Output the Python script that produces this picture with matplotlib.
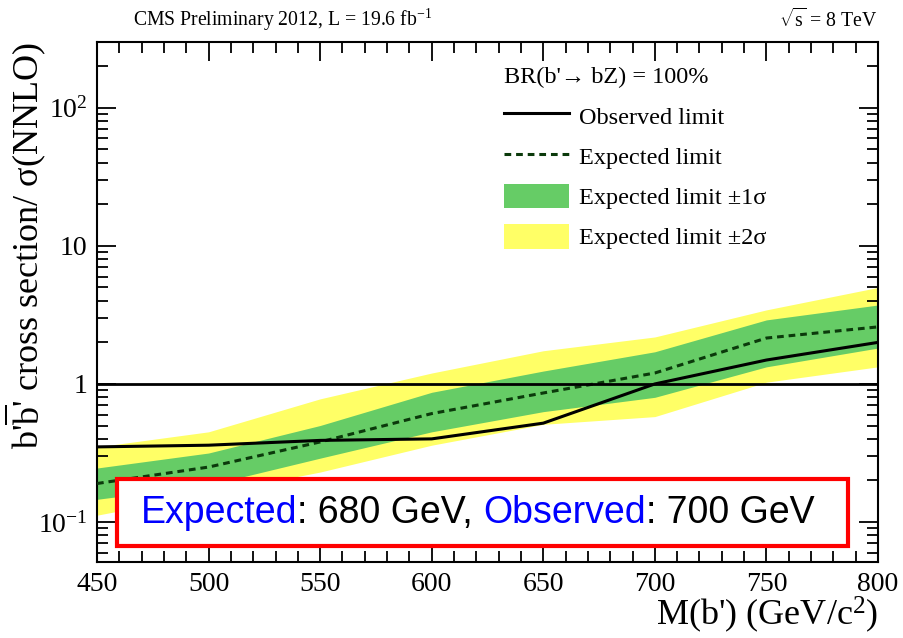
import numpy as np
import matplotlib
matplotlib.use("Agg")
import matplotlib.pyplot as plt
from matplotlib.lines import Line2D
from matplotlib.patches import Patch, Rectangle
from matplotlib.ticker import FixedLocator, FixedFormatter, MultipleLocator, LogLocator, NullFormatter
from matplotlib.offsetbox import TextArea, HPacker, AnchoredOffsetbox

plt.rcParams['font.family'] = ['Liberation Serif', 'DejaVu Serif']
plt.rcParams['mathtext.fontset'] = 'custom'
plt.rcParams['mathtext.rm'] = 'Liberation Serif'
plt.rcParams['mathtext.it'] = 'Liberation Serif:italic'

# b' mass points (GeV)
mass = [450, 500, 550, 600, 650, 700, 750, 800]

# limits on cross section / sigma(NNLO)
observed = [0.35, 0.36, 0.39, 0.40, 0.52, 1.00, 1.49, 2.00]
expected = [0.19, 0.25, 0.38, 0.61, 0.86, 1.20, 2.15, 2.59]
exp_1s_lo = [0.146, 0.185, 0.29, 0.45, 0.63, 0.80, 1.33, 1.82]
exp_1s_hi = [0.246, 0.316, 0.50, 0.87, 1.24, 1.71, 2.91, 3.73]
exp_2s_lo = [0.112, 0.16, 0.23, 0.36, 0.51, 0.58, 1.03, 1.33]
exp_2s_hi = [0.35, 0.45, 0.78, 1.20, 1.74, 2.19, 3.44, 5.00]

fig = plt.figure(figsize=(9.04, 6.38), dpi=100)
ax = fig.add_axes([0.1073, 0.1191, 0.8639, 0.8151])

ax.fill_between(mass, exp_2s_lo, exp_2s_hi, color='#ffff66', lw=0, zorder=1)
ax.fill_between(mass, exp_1s_lo, exp_1s_hi, color='#66cc66', lw=0, zorder=2)
ax.plot(mass, expected, color='#0b3a0b', ls=(0, (2.2, 1.6)), lw=2.2, zorder=3)
ax.plot(mass, observed, color='black', lw=2.2, zorder=4)
ax.axhline(1.0, color='black', lw=2, zorder=4)

ax.set_xlim(450, 800)
ax.set_yscale('log')
ax.set_ylim(0.0513, 300)

# ROOT style ticks
ax.xaxis.set_major_locator(MultipleLocator(50))
ax.xaxis.set_minor_locator(MultipleLocator(10))
ax.yaxis.set_major_locator(FixedLocator([0.1, 1, 10, 100]))
ax.yaxis.set_major_formatter(FixedFormatter(['10$^{-1}$', '1', '10', '10$^{2}$']))
ax.yaxis.set_minor_locator(LogLocator(base=10, subs=np.arange(2, 10)))
ax.yaxis.set_minor_formatter(NullFormatter())
ax.tick_params(which='both', direction='in', top=True, right=True, width=1.3)
ax.tick_params(which='major', length=14, labelsize=20, pad=7)
ax.tick_params(which='minor', length=8)
for s in ax.spines.values():
    s.set_linewidth(1.5)

ax.set_xlabel("M(b') (GeV/c$^{2}$)", fontsize=26, loc='right', labelpad=-1.5)
ax.set_ylabel("b'$\\overline{\\mathrm{b}}$' cross section/ \u03c3(NNLO)",
              fontsize=26, loc='top')
ax.yaxis.set_label_coords(-0.062, 1.0)

fig.text(133 / 904, 1 - 20 / 638, "CMS Preliminary 2012, L = 19.6 fb$^{-1}$",
         fontsize=14.2, va='center', ha='left')
fig.text(878 / 904, 1 - 20 / 638, "$\\sqrt{\\mathrm{s}}$ = 8 TeV",
         fontsize=14.2, va='center', ha='right')

handles = [Line2D([], [], color='black', lw=2.2),
           Line2D([], [], color='#0b3a0b', ls=(0, (2.2, 1.6)), lw=2.2),
           Patch(facecolor='#66cc66', lw=0),
           Patch(facecolor='#ffff66', lw=0)]
labels = ['Observed limit', 'Expected limit', 'Expected limit \u00b11\u03c3',
          'Expected limit \u00b12\u03c3']
leg = ax.legend(handles, labels, title="BR(b'\u2192 bZ) = 100%",
                loc='upper left', bbox_to_anchor=(0.499, 0.984), frameon=False,
                fontsize=17.5, title_fontsize=17.5, handlelength=2.67,
                handleheight=1.2, labelspacing=0.6, handletextpad=0.41,
                borderpad=0.2, alignment='left')

# result box
ax.add_patch(Rectangle((0.0256, 0.0308), 0.936, 0.1288, transform=ax.transAxes,
                       facecolor='white', edgecolor='#ff0000', lw=3, zorder=5))
parts = [("Expected", 'blue'), (": 680 GeV, ", 'black'),
         ("Observed", 'blue'), (": 700 GeV", 'black')]
boxes = [TextArea(t, textprops=dict(color=c, fontsize=27, family='Liberation Sans'))
         for t, c in parts]
pack = HPacker(children=boxes, align='baseline', pad=0, sep=0)
anch = AnchoredOffsetbox(loc='center', child=pack, frameon=False,
                         bbox_to_anchor=(0.487, 0.094), bbox_transform=ax.transAxes,
                         borderpad=0, pad=0)
anch.set_zorder(6)
ax.add_artist(anch)

fig.savefig('out.png', dpi=100)
